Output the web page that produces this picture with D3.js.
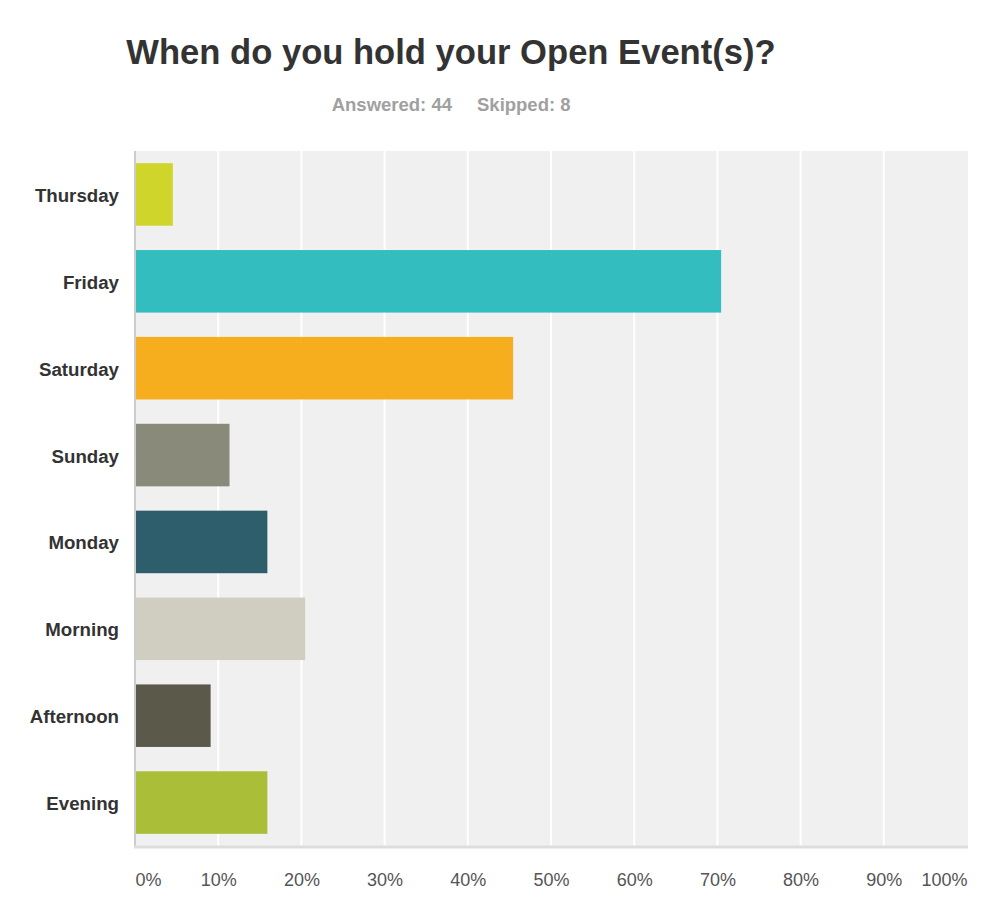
<!DOCTYPE html>
<html>
<head>
<meta charset="utf-8">
<script src="https://cdn.jsdelivr.net/npm/d3@7"></script>
<style>
  body { margin: 0; background: #fff; }
  svg { font-family: "Liberation Sans", Arial, Helvetica, sans-serif; }
</style>
</head>
<body>
<div id="chart-container"></div>
<script>
const categories = ['Thursday', 'Friday', 'Saturday', 'Sunday', 'Monday', 'Morning', 'Afternoon', 'Evening']
const percents = [4.55, 70.45, 45.45, 11.36, 15.91, 20.45, 9.09, 15.91]
const barColors = ['#cfd52b', '#33bdbf', '#f7ae1e', '#898a7a', '#2e5e6b', '#d0cec0', '#5b5a4a', '#abbe38']
const tickValues = [0, 10, 20, 30, 40, 50, 60, 70, 80, 90, 100]

const width = 1000
const height = 908
const plotLeft = 135, plotRight = 967, plotTop = 151, plotBottom = 846

const svg = d3.select('#chart-container')
    .append('svg')
    .attr('width', width)
    .attr('height', height)

// Title
svg.append('text')
    .attr('x', 451)
    .attr('y', 64)
    .attr('text-anchor', 'middle')
    .attr('font-size', 34.6)
    .attr('font-weight', 'bold')
    .attr('fill', '#333')
    .text('When do you hold your Open Event(s)?')

svg.append('text')
    .attr('x', 452)
    .attr('y', 111)
    .attr('text-anchor', 'end')
    .attr('font-size', 18.5)
    .attr('font-weight', 'bold')
    .attr('fill', '#a0a0a0')
    .text('Answered: 44')
svg.append('text')
    .attr('x', 477)
    .attr('y', 111)
    .attr('text-anchor', 'start')
    .attr('font-size', 18.5)
    .attr('font-weight', 'bold')
    .attr('fill', '#a0a0a0')
    .text('Skipped: 8')

// Scales
const xScale = d3.scaleLinear().domain([0, 100]).range([plotLeft, plotRight])
const yScale = d3.scaleBand()
    .domain(categories)
    .range([plotTop, plotBottom])
    .paddingInner(0.28)
    .paddingOuter(0.14)

// Plot background
svg.append('rect')
    .attr('x', plotLeft)
    .attr('y', plotTop)
    .attr('width', plotRight + 1 - plotLeft)
    .attr('height', plotBottom - plotTop)
    .attr('fill', '#f0f0f0')

// Grid lines
svg.append('g')
    .selectAll('line')
    .data(tickValues.slice(1, -1))
    .enter()
    .append('line')
    .attr('x1', d => xScale(d))
    .attr('x2', d => xScale(d))
    .attr('y1', plotTop)
    .attr('y2', plotBottom)
    .attr('stroke', '#fff')
    .attr('stroke-width', 2)

// Bars
svg.append('g')
    .selectAll('rect')
    .data(categories)
    .enter()
    .append('rect')
    .attr('x', xScale(0))
    .attr('y', d => yScale(d))
    .attr('width', (d, i) => xScale(percents[i]) - xScale(0))
    .attr('height', yScale.bandwidth())
    .attr('fill', (d, i) => barColors[i])

// Axis lines
svg.append('line')
    .attr('x1', plotLeft).attr('x2', plotLeft)
    .attr('y1', plotTop).attr('y2', plotBottom + 1)
    .attr('stroke', '#cccccc')
    .attr('stroke-width', 2)
svg.append('line')
    .attr('x1', plotLeft - 1).attr('x2', plotRight + 1)
    .attr('y1', plotBottom + 1).attr('y2', plotBottom + 1)
    .attr('stroke', '#dddddd')
    .attr('stroke-width', 3)

// Category labels
const yAxis = d3.axisLeft(yScale).tickSize(0).tickPadding(16)
const yG = svg.append('g')
    .attr('transform', 'translate(' + plotLeft + ',0)')
    .call(yAxis)
yG.select('.domain').remove()
yG.selectAll('text')
    .attr('font-family', '"Liberation Sans", Arial, sans-serif')
    .attr('font-size', 18.7)
    .attr('font-weight', 'bold')
    .attr('fill', '#333')
    .attr('dy', '0.4em')

// X tick labels
const xAxis = d3.axisBottom(xScale)
    .tickValues(tickValues)
    .tickFormat(d => d + '%')
    .tickSize(0)
    .tickPadding(0)
const xG = svg.append('g')
    .attr('transform', 'translate(0,' + 873 + ')')
    .call(xAxis)
xG.select('.domain').remove()
xG.selectAll('text')
    .attr('font-family', '"Liberation Sans", Arial, sans-serif')
    .attr('font-size', 18)
    .attr('fill', '#555')
    .attr('text-anchor', (d, i) => i === 0 ? 'start' : (i === tickValues.length - 1 ? 'end' : 'middle'))
</script>
</body>
</html>
